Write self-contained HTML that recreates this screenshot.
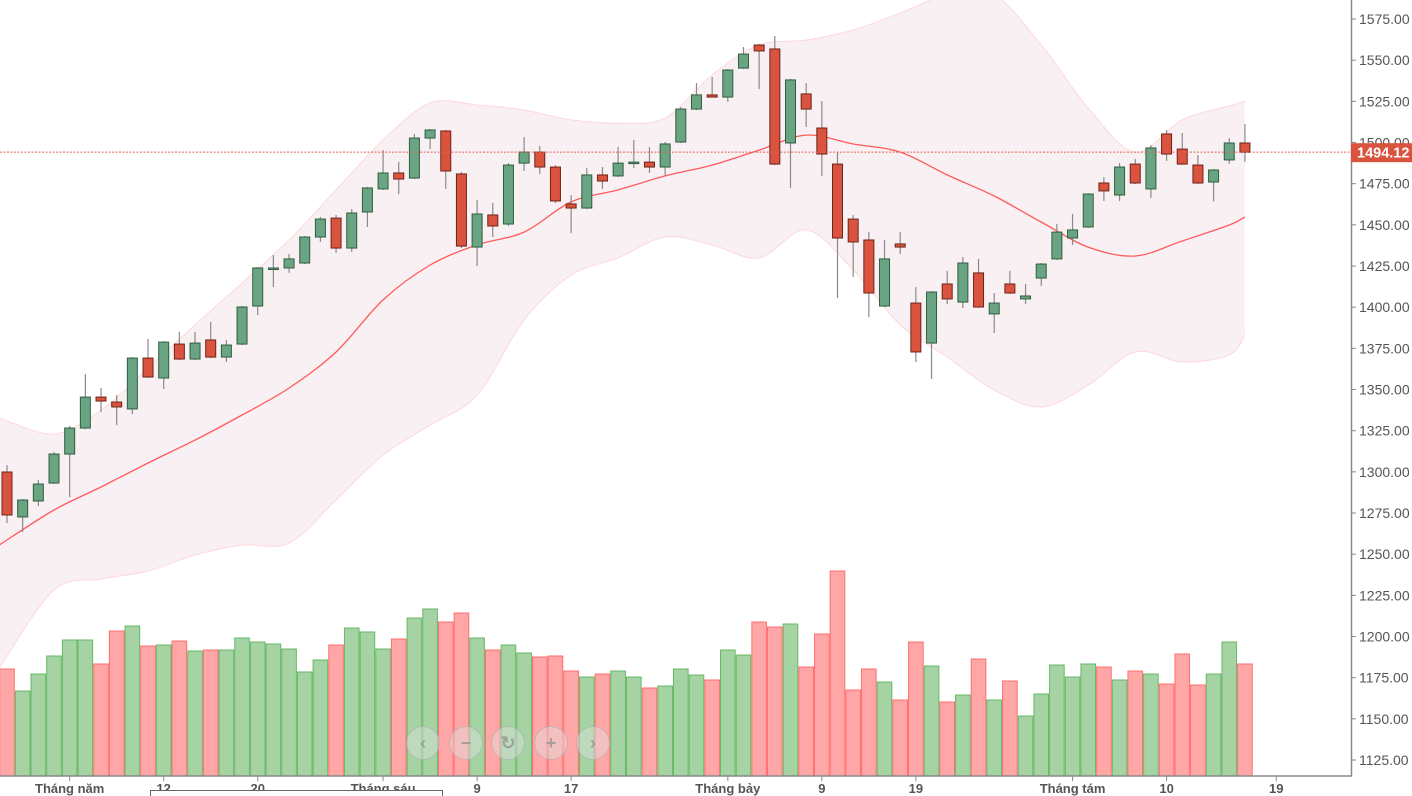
<!DOCTYPE html>
<html><head><meta charset="utf-8"><title>Candlestick chart</title>
<style>
html,body{margin:0;padding:0;background:#fff;}
svg{display:block;font-family:"Liberation Sans",sans-serif;}
</style></head>
<body>
<svg id="chart" width="1412" height="796" viewBox="0 0 1412 796">
<defs><clipPath id="plotclip"><rect x="0" y="0" width="1352" height="776"/></clipPath></defs>
<g id="bands" clip-path="url(#plotclip)"></g>
<g id="volumes" clip-path="url(#plotclip)"></g>
<g id="mid" clip-path="url(#plotclip)"></g>
<g id="candles" clip-path="url(#plotclip)"></g>
<g id="axes"></g>
<g id="nav"></g>
</svg>
<script>
const opens  = [1299.9,1272.6,1282.3,1293.2,1310.8,1326.6,1345.4,1342.4,1338.2,1369.1,1357.0,1377.6,1368.5,1380.1,1369.7,1377.6,1400.7,1423.2,1423.8,1426.8,1442.6,1454.1,1435.9,1457.8,1471.8,1481.5,1478.4,1502.7,1507.0,1480.9,1436.5,1456.0,1450.5,1487.5,1494.2,1485.1,1462.7,1460.2,1480.3,1479.7,1487.5,1488.1,1485.1,1500.3,1520.3,1528.9,1527.6,1545.2,1559.2,1556.8,1499.7,1529.5,1508.8,1486.9,1453.5,1440.8,1400.7,1438.4,1402.5,1378.2,1414.1,1403.1,1420.8,1395.9,1414.1,1405.0,1417.7,1429.3,1442.0,1448.7,1475.4,1468.1,1486.9,1471.8,1505.2,1496.0,1486.3,1476.0,1489.4,1499.7];
const highs  = [1304.1,1283.5,1295.0,1312.0,1327.8,1359.4,1350.9,1346.7,1369.7,1380.7,1379.4,1385.0,1385.0,1391.0,1380.1,1400.7,1424.4,1431.7,1432.3,1443.2,1454.8,1456.0,1459.6,1473.0,1495.4,1488.2,1505.2,1508.2,1507.6,1482.1,1465.1,1463.3,1487.5,1503.3,1497.9,1486.3,1468.1,1484.5,1485.1,1497.3,1501.5,1497.3,1500.3,1521.5,1536.1,1539.8,1544.6,1558.0,1559.8,1564.7,1538.6,1536.1,1525.2,1494.2,1456.0,1445.6,1440.8,1445.6,1412.2,1409.8,1422.0,1430.5,1429.3,1408.6,1422.0,1414.1,1426.8,1450.5,1456.6,1469.3,1479.0,1487.5,1490.0,1498.5,1507.6,1505.8,1492.4,1483.9,1502.7,1511.2];
const lows   = [1268.9,1263.5,1279.2,1292.6,1284.7,1326.0,1336.3,1328.4,1335.1,1357.0,1350.3,1367.9,1367.9,1369.1,1366.7,1377.0,1395.2,1412.2,1420.8,1426.2,1439.6,1432.9,1433.5,1448.7,1471.2,1468.7,1477.8,1496.0,1471.8,1435.9,1425.0,1442.6,1449.3,1482.7,1480.9,1463.3,1445.0,1459.6,1471.8,1479.0,1484.5,1481.5,1479.7,1499.7,1519.7,1527.6,1524.6,1544.6,1532.5,1486.3,1472.4,1509.4,1479.7,1405.6,1418.3,1394.0,1400.1,1432.3,1366.7,1356.4,1401.9,1399.5,1399.5,1384.3,1408.0,1401.9,1412.9,1428.7,1437.8,1448.1,1464.5,1464.5,1474.8,1466.3,1488.8,1486.3,1474.8,1464.2,1487.0,1488.2];
const closes = [1273.8,1282.9,1292.6,1310.8,1326.6,1345.4,1343.0,1339.4,1369.1,1357.6,1378.8,1368.5,1378.2,1369.7,1377.0,1400.1,1423.8,1423.8,1429.3,1442.6,1453.5,1435.9,1457.2,1472.4,1481.5,1477.8,1502.7,1507.6,1482.7,1437.1,1456.6,1449.3,1486.3,1494.2,1485.1,1464.5,1460.2,1480.3,1476.6,1487.5,1488.1,1485.1,1499.1,1520.3,1528.9,1527.6,1544.0,1553.7,1555.6,1486.9,1538.0,1520.3,1493.0,1442.0,1439.6,1408.6,1429.3,1436.5,1372.8,1409.2,1405.0,1426.8,1400.1,1402.5,1408.6,1406.8,1426.2,1445.6,1446.9,1468.7,1470.6,1485.1,1475.4,1496.7,1493.0,1486.9,1475.4,1483.3,1499.7,1494.12];
const volumes = [107,85,102,120,136,136,112,145,150,130,131,135,125,126,126,138,134,132,127,104,116,131,148,144,127,137,158,167,154,163,138,126,131,123,119,120,105,99,102,105,99,88,90,107,101,96,126,121,154,149,152,109,142,205,86,107,94,76,134,110,74,81,117,76,95,60,82,111,99,112,109,96,105,102,92,122,91,102,134,112];
const bandIdx = [-0.5,3,6,9,12,15,18,21,24,27,30,33,36,39,42,45,48,51,54,57,60,63,66,69,72,75,78,79];
const upperBand = [1332.7,1323.0,1337.5,1363.0,1389.2,1414.7,1440.8,1471.2,1501.5,1524.0,1522.8,1519.7,1513.7,1511.8,1514.9,1541.0,1559.2,1562.2,1568.3,1578.6,1589.6,1589.6,1559.2,1520.9,1494.2,1513.7,1522.2,1525.2];
const midBand = [1255.5,1276.8,1290.8,1305.4,1319.3,1334.5,1350.9,1372.8,1404.4,1425.6,1437.8,1445.6,1463.9,1471.2,1479.7,1486.3,1495.4,1504.5,1499.1,1494.2,1480.3,1467.5,1451.7,1436.5,1431.1,1440.2,1449.9,1454.8];
const lowerBand = [1180.9,1228.2,1234.9,1239.8,1249.5,1255.5,1256.8,1282.9,1310.2,1328.4,1346.6,1392.2,1419.5,1429.9,1442.6,1437.8,1429.9,1446.9,1422.6,1389.2,1369.7,1349.7,1339.4,1352.7,1372.8,1366.7,1371.0,1383.1];
const yTicks = [1125,1150,1175,1200,1225,1250,1275,1300,1325,1350,1375,1400,1425,1450,1475,1500,1525,1550,1575];
const xTickIdx = [4,10,16,24,30,36,46,52,58,68,74,81];
const xTickLabels = ["Tháng năm","12","20","Tháng sáu","9","17","Tháng bảy","9","19","Tháng tám","10","19"];
const lastPrice = 1494.12;

const NS="http://www.w3.org/2000/svg";
function X(i){return 7+15.67*i;}
function Y(v){return 19+(1575-v)*1.6467;}
function VY(v){return 776-v;}
function mk(tag,attrs,parent){const e=document.createElementNS(NS,tag);for(const k in attrs)e.setAttribute(k,attrs[k]);parent.appendChild(e);return e;}
function smooth(pts,move){
  let s=move?('M'+pts[0][0].toFixed(1)+','+pts[0][1].toFixed(1)):('L'+pts[0][0].toFixed(1)+','+pts[0][1].toFixed(1));
  for(let i=0;i<pts.length-1;i++){
    const p0=pts[Math.max(i-1,0)],p1=pts[i],p2=pts[i+1],p3=pts[Math.min(i+2,pts.length-1)];
    const c1=[p1[0]+(p2[0]-p0[0])/6,p1[1]+(p2[1]-p0[1])/6];
    const c2=[p2[0]-(p3[0]-p1[0])/6,p2[1]-(p3[1]-p1[1])/6];
    s+='C'+c1[0].toFixed(1)+','+c1[1].toFixed(1)+' '+c2[0].toFixed(1)+','+c2[1].toFixed(1)+' '+p2[0].toFixed(1)+','+p2[1].toFixed(1);
  }
  return s;
}
const upPts=bandIdx.map((b,i)=>[X(b),Y(upperBand[i])]);
const loPts=bandIdx.map((b,i)=>[X(b),Y(lowerBand[i])]);
const midPts=bandIdx.map((b,i)=>[X(b),Y(midBand[i])]);

const gB=document.getElementById('bands');
const bf=mk('path',{d:smooth(upPts,true)+smooth(loPts.slice().reverse(),false)+'Z',fill:'#f9f0f3',stroke:'none'},gB);


const up=mk('path',{d:smooth(upPts,true),fill:'none',stroke:'#ffd8d8','stroke-width':1},gB);


const lo=mk('path',{d:smooth(loPts,true),fill:'none',stroke:'#ffd8d8','stroke-width':1},gB);



const gV=document.getElementById('volumes');
volumes.forEach((v,i)=>{
  const upc=closes[i]>=opens[i];
  const r=mk('rect',{x:X(i)-7.3,y:VY(v),width:14.6,height:v,fill:upc?'#a5d3a3':'#ffa6a6',stroke:upc?'#66b866':'#ff6e6e','stroke-width':1},gV);
  
  
});

const gM=document.getElementById('mid');
const ml=mk('path',{d:smooth(midPts,true),fill:'none',stroke:'#ff5a5a','stroke-width':1.3},gM);



const gC=document.getElementById('candles');
opens.forEach((o,i)=>{
  const c=closes[i],upc=c>=o,x=X(i);
  const w=mk('line',{x1:x,x2:x,y1:Y(highs[i]),y2:Y(lows[i]),stroke:'#8a8a8a','stroke-width':1.2},gC);
  
  
  const top=Y(Math.max(o,c)),bot=Y(Math.min(o,c));
  const b=mk('rect',{x:x-5,y:top,width:10,height:Math.max(bot-top,1.5),fill:upc?'#6aa583':'#d9533f',stroke:upc?'#2e5e3e':'#6e2419','stroke-width':1},gC);
  
  
});

const gA=document.getElementById('axes');
const pl=mk('line',{x1:0,x2:1352,y1:Y(lastPrice),y2:Y(lastPrice),stroke:'#e0605a','stroke-width':1,'stroke-dasharray':'2,1.5'},gA);


const ya=mk('line',{x1:1351.5,x2:1351.5,y1:0,y2:776.5,stroke:'#888','stroke-width':1.5},gA);


const xa=mk('line',{x1:0,x2:1352,y1:776,y2:776,stroke:'#888','stroke-width':1.5},gA);


yTicks.forEach(v=>{
  const y=Y(v);
  const t=mk('line',{x1:1352,x2:1356,y1:y,y2:y,stroke:'#888','stroke-width':1},gA);
  
  
  const tx=mk('text',{x:1359,y:y+5,'font-size':14,fill:'#555'},gA);
  tx.textContent=v.toFixed(2);
  
  
});
const pb=mk('rect',{x:1351,y:Y(lastPrice)-9,width:61,height:19,fill:'#d9533f'},gA);


const pt=mk('text',{x:1357,y:Y(lastPrice)+5.5,'font-size':14.5,'font-weight':'bold',fill:'#fff'},gA);
pt.textContent=lastPrice.toFixed(2);


xTickIdx.forEach((k,i)=>{
  const x=X(k);
  const t=mk('line',{x1:x,x2:x,y1:776,y2:781,stroke:'#888','stroke-width':1},gA);
  
  
  const tx=mk('text',{x:x,y:793,'font-size':13,'font-weight':'bold',fill:'#555','text-anchor':'middle'},gA);
  tx.textContent=xTickLabels[i];
  
  
});
const tb=mk('rect',{x:150.5,y:790.5,width:292,height:12,fill:'#fff',stroke:'#666','stroke-width':1},gA);



const gN=document.getElementById('nav');
const navX=[423,466,508,551,593];
const navG=['‹','−','↻','+','›'];
const navN=['scroll-left-button','zoom-out-button','reset-button','zoom-in-button','scroll-right-button'];
navX.forEach((x,i)=>{
  const c=mk('circle',{cx:x,cy:743,r:16.5,fill:'rgba(225,225,225,0.45)',stroke:'rgba(170,170,170,0.55)','stroke-width':1},gN);
  
  
  const t=mk('text',{x:x,y:749,'font-size':18,'font-weight':'bold',fill:'rgba(140,140,140,0.7)','text-anchor':'middle'},gN);
  t.textContent=navG[i];
  
  
});
</script>
</body></html>
